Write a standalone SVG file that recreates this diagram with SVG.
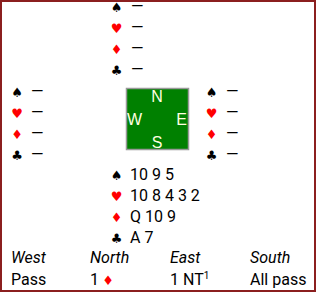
<svg xmlns="http://www.w3.org/2000/svg" width="317" height="293" viewBox="0 0 317 293">
<style>
text{font-family:Roboto,"Liberation Sans",sans-serif;font-size:16px;fill:#000}
.s{font-family:"DejaVu Sans",sans-serif;font-size:13px;text-anchor:middle}
.r{fill:#f00}
.c{font-family:"Liberation Sans",Arial,sans-serif;font-size:16px;fill:#ffffe0;text-anchor:middle}
.i{font-style:italic}
</style>
<rect x="1" y="1" width="314" height="290" fill="#fff" stroke="#8b1f1f" stroke-width="2"/>
<g id="north">
<text class="s" x="116.5" y="12">♠</text><text x="131" y="12">—</text>
<text class="s r" x="116.5" y="33">♥</text><text x="131" y="33">—</text>
<text class="s r" x="116.5" y="54">♦</text><text x="131" y="54">—</text>
<text class="s" x="116.5" y="75">♣</text><text x="131" y="75">—</text>
</g>
<g id="west">
<text class="s" x="17" y="97">♠</text><text x="31" y="97">—</text>
<text class="s r" x="17" y="118">♥</text><text x="31" y="118">—</text>
<text class="s r" x="17" y="139">♦</text><text x="31" y="139">—</text>
<text class="s" x="17" y="160">♣</text><text x="31" y="160">—</text>
</g>
<g id="east">
<text class="s" x="211.5" y="97">♠</text><text x="226" y="97">—</text>
<text class="s r" x="211.5" y="118">♥</text><text x="226" y="118">—</text>
<text class="s r" x="211.5" y="139">♦</text><text x="226" y="139">—</text>
<text class="s" x="211.5" y="160">♣</text><text x="226" y="160">—</text>
</g>
<g id="compass">
<rect x="126.5" y="88.5" width="62" height="61" fill="#008000" stroke="#999" stroke-width="1.5"/>
<text class="c" x="157" y="102">N</text>
<text class="c" x="134.5" y="125">W</text>
<text class="c" x="181.5" y="125">E</text>
<text class="c" x="157" y="148">S</text>
</g>
<g id="south">
<text class="s" x="116.5" y="180">♠</text><text x="130" y="180">10 9 5</text>
<text class="s r" x="116.5" y="201">♥</text><text x="130" y="201">10 8 4 3 2</text>
<text class="s r" x="116.5" y="222">♦</text><text x="130" y="222">Q 10 9</text>
<text class="s" x="116.5" y="243">♣</text><text x="130" y="243">A 7</text>
</g>
<g id="auction">
<text class="i" x="11" y="263">West</text>
<text class="i" x="90" y="263">North</text>
<text class="i" x="170" y="263">East</text>
<text class="i" x="250" y="263">South</text>
<text x="11" y="285">Pass</text>
<text x="90" y="285">1</text><text class="s r" x="108" y="285">♦</text>
<text x="170" y="285">1 NT<tspan font-size="10" dy="-6">1</tspan></text>
<text x="250" y="285">All pass</text>
</g>
<g id="connectors"/>
</svg>
